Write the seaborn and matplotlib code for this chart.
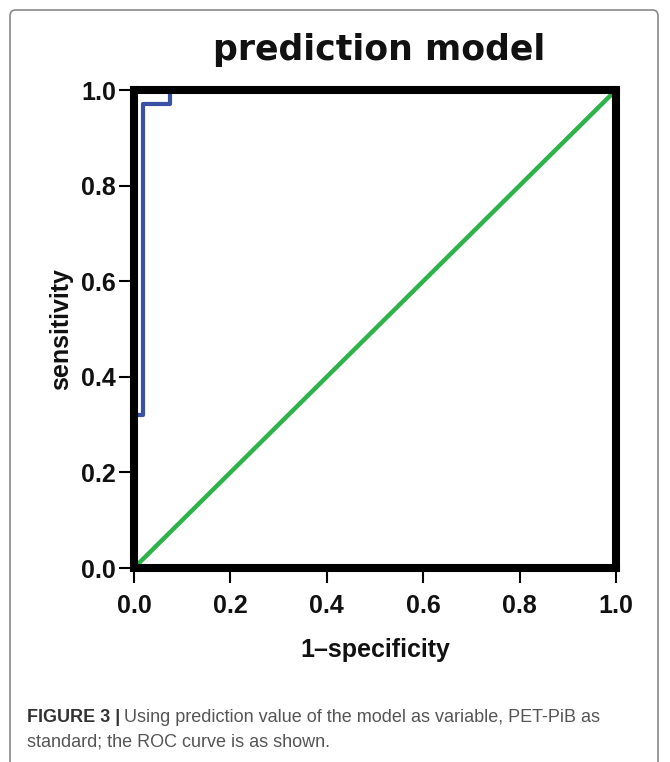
import matplotlib
matplotlib.use("Agg")
import matplotlib.pyplot as plt
import seaborn as sns
import pandas as pd
from matplotlib.patches import FancyBboxPatch

# Data
roc_fpr = [0.0, 0.0, 0.019, 0.019, 0.075, 0.075, 1.0]
roc_tpr = [0.0, 0.32, 0.32, 0.97, 0.97, 1.0, 1.0]
ref_x = [0.0, 1.0]
ref_y = [0.0, 1.0]
tick_vals = [0.0, 0.2, 0.4, 0.6, 0.8, 1.0]
tick_labels = ["0.0", "0.2", "0.4", "0.6", "0.8", "1.0"]

sns.set_theme(style="white")
plt.rcParams['font.family'] = ['Liberation Sans', 'DejaVu Sans']

fig = plt.figure(figsize=(6.7, 7.62), dpi=100)
ax = fig.add_axes([134/670, 1-568/762, (616-134)/670, (568-90)/762])

roc_df = pd.DataFrame({"fpr": roc_fpr, "tpr": roc_tpr})
ref_df = pd.DataFrame({"x": ref_x, "y": ref_y})
sns.lineplot(data=ref_df, x="x", y="y", sort=False, estimator=None, ax=ax,
             color="#2db34a", lw=3.2)
sns.lineplot(data=roc_df, x="fpr", y="tpr", sort=False, estimator=None, ax=ax,
             color="#3a52a4", lw=3.0)

ax.set_xlim(0, 1)
ax.set_ylim(0, 1)
ax.set_xticks(tick_vals)
ax.set_xticklabels(tick_labels)
ax.set_yticks(tick_vals)
ax.set_yticklabels(tick_labels)
for s in ax.spines.values():
    s.set_visible(True)
    s.set_color("black")
    s.set_linewidth(5.8)
ax.tick_params(axis="both", which="major", direction="out", length=11, width=1.5,
               color="black", labelsize=18, bottom=True, left=True)
ax.tick_params(axis="x", pad=8)
ax.tick_params(axis="y", pad=2)
for lab in ax.get_xticklabels() + ax.get_yticklabels():
    lab.set_fontweight("bold")
    lab.set_color("#111111")

ax.set_xlabel("1\u2013specificity", fontsize=18, fontweight="bold", color="#111111", labelpad=14)
ax.set_ylabel("sensitivity", fontsize=18, fontweight="bold", color="#111111", labelpad=6)

fig.text(379/670, 1-50/762, "prediction model", fontsize=25, fontweight="bold",
         family=["DejaVu Sans"], ha="center", va="center", color="#111111")

# caption
cap_fam = ['Liberation Sans Narrow', 'Liberation Sans', 'DejaVu Sans']
t1 = fig.text(27/670, 1-718/762, "FIGURE 3 |", fontsize=13, fontweight="bold",
              family=cap_fam, color="#333333", ha="left", va="center")
fig.canvas.draw()
bb = t1.get_window_extent()
fig.text((bb.x1 + 4)/670, 1-718/762,
         "Using prediction value of the model as variable, PET-PiB as",
         fontsize=13, family=cap_fam, color="#555555", ha="left", va="center")
fig.text(27/670, 1-742/762, "standard; the ROC curve is as shown.",
         fontsize=13, family=cap_fam, color="#555555", ha="left", va="center")

border = FancyBboxPatch((10/670, -0.05), (658-10)/670, (1-10/762)+0.05,
                        boxstyle="round,pad=0,rounding_size=0.008",
                        transform=fig.transFigure, fill=False, edgecolor="#8a8a8a", lw=1.2)
fig.patches.append(border)

fig.savefig("out.png", dpi=100)
